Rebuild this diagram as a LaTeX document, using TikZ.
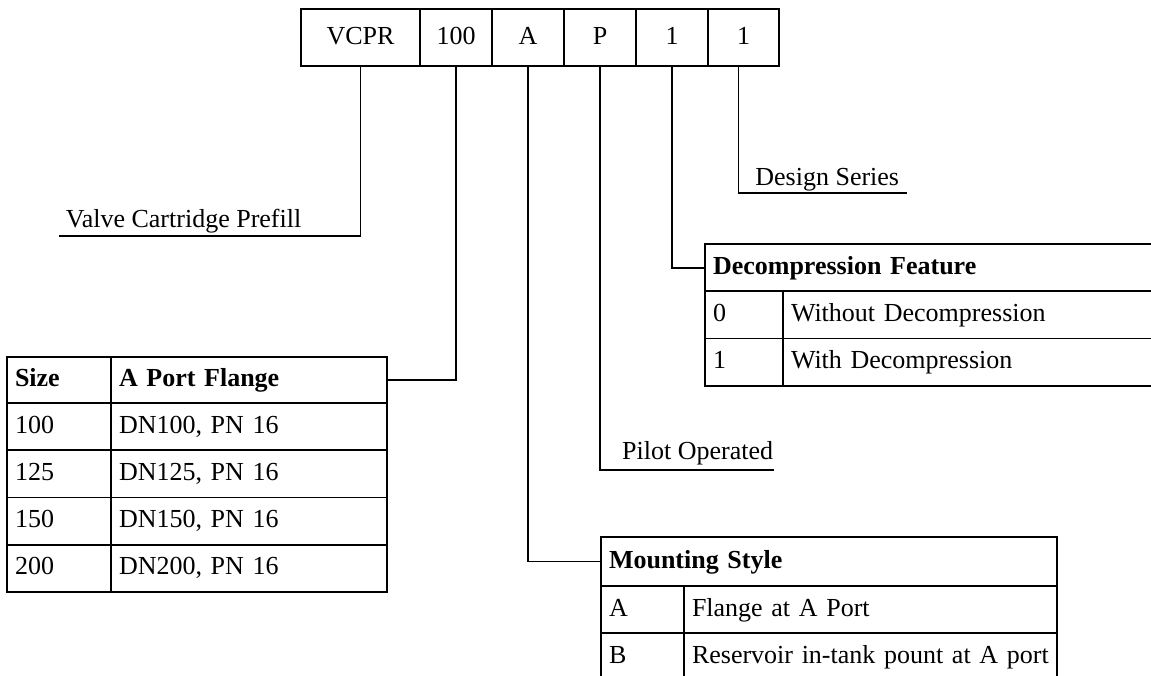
\documentclass[tikz,border=0pt]{standalone}
\usepackage{fontspec}
\setmainfont{Liberation Serif}
\usetikzlibrary{positioning}

\begin{document}
\begin{tikzpicture}[x=1pt, y=-1pt, line width=1.8pt,
        font=\fontsize{26}{31}\selectfont,
        % Define code box style
        codebox/.style={
        draw,
        minimum height=57pt,
        inner sep=0pt,
        outer sep=0pt,
        text height=18pt,
        text depth=5pt
        },
        % Define table cell style (#1 = text width)
        cell/.style={
        draw,
        anchor=north west,
        text width=#1,
        align=left,
        minimum height=47.2pt,
        inner xsep=8pt,
        inner ysep=0pt,
        outer sep=0pt,
        text height=18pt,
        text depth=5pt
        },
        % Define underlined label style
        lbl/.style={
        inner ysep=8pt,
        text depth=0pt
        }]
        \useasboundingbox (0,0) rectangle (1151,675);
        \clip (0,0) rectangle (1151,675);

        % Code boxes
        \node[codebox, minimum width=119pt, anchor=north west] (vcpr) at (301,9) {VCPR};
        \node[codebox, minimum width=72pt, right=0pt of vcpr] (csize) {100};
        \node[codebox, minimum width=72pt, right=0pt of csize] (cmount) {A};
        \node[codebox, minimum width=72pt, right=0pt of cmount] (cpilot) {P};
        \node[codebox, minimum width=72pt, right=0pt of cpilot] (cdecomp) {1};
        \node[codebox, minimum width=71pt, right=0pt of cdecomp] (cseries) {1};

        % Labels
        \node[lbl, anchor=south west, inner xsep=6pt] (prefill) at (59,236) {Valve Cartridge Prefill};
        \node[lbl, anchor=south east, inner xsep=7pt, inner ysep=7pt] (series) at (907,193) {Design Series};
        \node[lbl, anchor=south east, inner xsep=0pt, inner ysep=10pt] (pilot) at (774,470) {Pilot Operated};

        % Size table
        \node[cell=88pt, minimum height=46pt] (size) at (7,357) {\textbf{Size}};
        \node[cell=260pt, minimum height=46pt, right=0pt of size] (flange) {\textbf{A Port Flange}};
        \node[cell=88pt, below=0pt of size] (s100) {100};
        \node[cell=260pt, right=0pt of s100] (f100) {DN100, PN 16};
        \node[cell=88pt, below=0pt of s100] (s125) {125};
        \node[cell=260pt, right=0pt of s125] (f125) {DN125, PN 16};
        \node[cell=88pt, below=0pt of s125] (s150) {150};
        \node[cell=260pt, right=0pt of s150] (f150) {DN150, PN 16};
        \node[cell=88pt, below=0pt of s150] (s200) {200};
        \node[cell=260pt, right=0pt of s200] (f200) {DN200, PN 16};

        % Decompression table
        \node[cell=439pt] (decomp) at (705,244) {\textbf{Decompression Feature}};
        \node[cell=62pt] (dec0) at (decomp.south west) {0};
        \node[cell=361pt, right=0pt of dec0] (without) {Without Decompression};
        \node[cell=62pt, below=0pt of dec0] (dec1) {1};
        \node[cell=361pt, right=0pt of dec1] (with) {With Decompression};

        % Mounting table
        \node[cell=440pt, minimum height=49pt] (mount) at (601,537) {\textbf{Mounting Style}};
        \node[cell=67pt] (mnta) at (mount.south west) {A};
        \node[cell=357pt, right=0pt of mnta] (flangea) {Flange at A Port};
        \node[cell=67pt, below=0pt of mnta] (mntb) {B};
        \node[cell=357pt, right=0pt of mntb] (reservoir) {Reservoir in-tank pount at A port};

        % Connectors
        \draw (vcpr.south) |- (prefill.south west);
        \draw (csize.south) |- (flange.east);
        \draw (cmount.south) |- (mount.west);
        \draw (cpilot.south) |- (pilot.south east);
        \draw (cdecomp.south) |- (decomp.west);
        \draw (cseries.south) ++(-5,0) |- (series.south east);
    \end{tikzpicture}
\end{document}
